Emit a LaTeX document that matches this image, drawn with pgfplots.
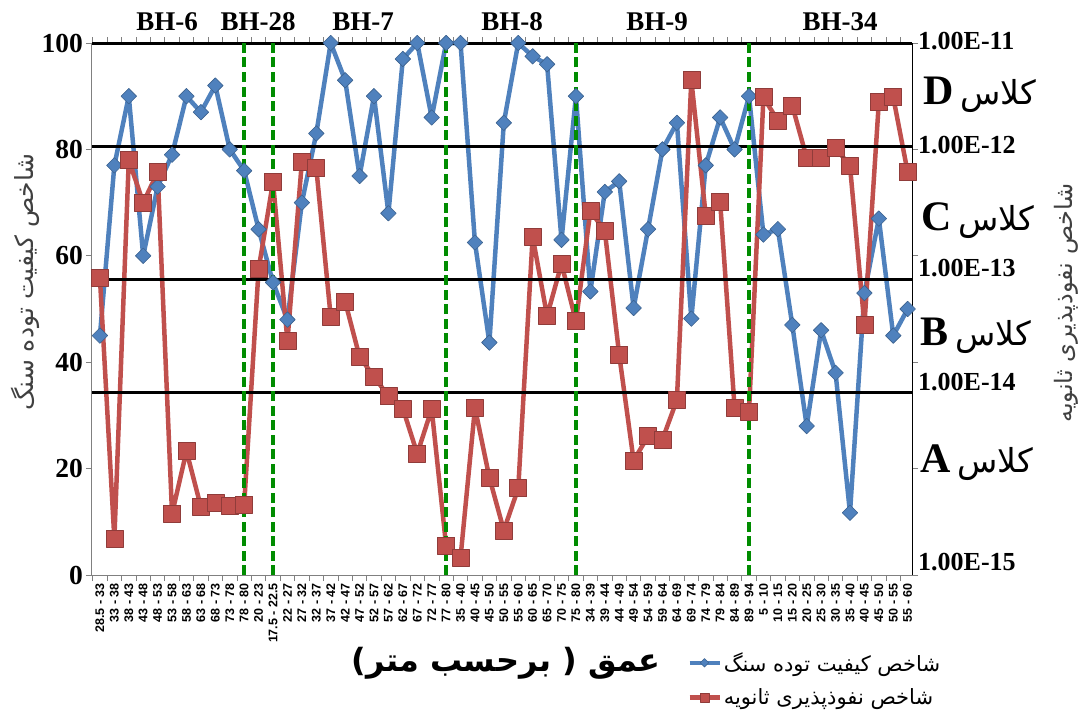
\documentclass[border=0pt]{standalone}
\usepackage{pgfplots}
\usepackage{pgfplotstable}
\pgfplotsset{compat=1.18}
\usepackage{fontspec}
\setmainfont{Liberation Serif}
\newfontfamily\sansf{Liberation Sans}
\newfontfamily\fa[Script=Arabic]{DejaVu Sans}
\TeXXeTstate=1
\definecolor{bl}{HTML}{4F81BD}
\definecolor{rd}{HTML}{C0504D}
\definecolor{gr}{RGB}{0,140,0}
\definecolor{lab}{HTML}{404040}

\pgfplotstableread{
i q
0 45
1 77
2 90
3 60
4 73
5 79
6 90
7 87
8 92
9 80
10 76
11 65
12 55
13 48
14 70
15 83
16 100
17 93
18 75
19 90
20 68
21 97
22 100
23 86
24 100
25 100
26 62.5
27 43.7
28 85
29 100
30 97.5
31 96
32 63
33 90
34 53.3
35 72
36 74
37 50.2
38 65
39 80
40 85
41 48.2
42 77
43 86
44 80
45 90
46 64
47 65
48 47
49 28
50 46
51 38
52 11.7
53 53
54 67
55 45
56 50
}\bluedata

\pgfplotstableread{
i p
0 55.8
1 6.8
2 78
3 70
4 75.7
5 11.5
6 23.3
7 12.8
8 13.6
9 13.1
10 13.2
11 57.5
12 73.9
13 44
14 77.7
15 76.5
16 48.5
17 51.4
18 41
19 37.3
20 33.6
21 31.3
22 22.8
23 31.2
24 5.5
25 3.3
26 31.4
27 18.3
28 8.4
29 16.3
30 63.6
31 48.7
32 58.5
33 47.7
34 68.4
35 64.7
36 41.4
37 21.5
38 26.1
39 25.5
40 32.9
41 93
42 67.6
43 70.1
44 31.4
45 30.7
46 89.8
47 85.4
48 88.2
49 78.4
50 78.4
51 80.3
52 76.9
53 47
54 88.9
55 89.8
56 75.7
}\reddata

\begin{document}
\begin{tikzpicture}
\path[use as bounding box] (-92pt,-146pt) rectangle (991pt,575pt);
\begin{axis}[
  scale only axis, width=820pt, height=532pt,
  at={(0pt,0pt)}, anchor=south west,
  xmin=-0.55, xmax=56.3, ymin=0, ymax=100,
  ytick={0,20,...,100},
  xtick={0,...,56},
  xticklabels={28.5 - 33,33 - 38,38 - 43,43 - 48,48 - 53,53 - 58,58 - 63,63 - 68,68 - 73,73 - 78,78 - 80,20 - 23,17.5 - 22.5,22 - 27,27 - 32,32 - 37,37 - 42,42 - 47,47 - 52,52 - 57,57 - 62,62 - 67,67 - 72,72 - 77,77 - 80,35 - 40,40 - 45,45 - 50,50 - 55,55 - 60,60 - 65,65 - 70,70 - 75,75 - 80,34 - 39,39 - 44,44 - 49,49 - 54,54 - 59,59 - 64,64 - 69,69 - 74,74 - 79,79 - 84,84 - 89,89 - 94,5 - 10,10 - 15,15 - 20,20 - 25,25 - 30,30 - 35,35 - 40,40 - 45,45 - 50,50 - 55,55 - 60},
  minor xtick={-0.5,0.5,...,55.5},
  every major x tick/.append style={draw=none},
  tick align=outside,
  major tick length=6pt, minor tick length=6pt,
  tick style={draw=gray, line width=0.8pt},
  axis line style={draw=gray, line width=1pt},
  x tick label style={rotate=90, anchor=east, font=\sansf\bfseries\fontsize{12.5}{13}\selectfont, inner sep=2pt},
  y tick label style={font=\fontsize{27.5}{29}\selectfont\bfseries, inner sep=3pt},
  /pgf/number format/assume math mode=true,
  clip=false,
  legend style={at={(0.722,-0.138)}, anchor=north west, draw=none, fill=none,
    font=\fa\fontsize{21}{24}\selectfont, row sep=12pt, cells={anchor=west}},
  legend image code/.code={\draw[mark repeat=2,mark phase=2,#1,every mark/.append style={scale=0.55}] plot coordinates {(0pt,0pt) (15pt,0pt) (30pt,0pt)};},
]
\addplot[bl, line width=4.5pt, line join=round, mark=square*, mark size=5.5pt,
  mark options={rotate=45, fill=bl, draw=bl!75!black, line width=0.6pt}]
  table[x=i,y=q]{\bluedata};
\addlegendentry{\beginR شاخص کیفیت توده سنگ\endR}
\addplot[rd, line width=4.5pt, line join=round, mark=square*, mark size=8.5pt,
  mark options={fill=rd, draw=rd!75!black, line width=0.6pt}]
  table[x=i,y=p]{\reddata};
\addlegendentry{\beginR شاخص نفوذپذیری ثانویه\endR}
\draw[black, line width=3pt] (axis cs:-0.55,80.5) -- (axis cs:56.3,80.5);
\draw[black, line width=3pt] (axis cs:-0.55,55.5) -- (axis cs:56.3,55.5);
\draw[black, line width=3pt] (axis cs:-0.55,34.3) -- (axis cs:56.3,34.3);
\draw[black, line width=3pt] (axis cs:-0.55,100) -- (axis cs:56.3,100);
\draw[black, line width=1pt] (axis cs:56.3,0) -- (axis cs:56.3,100);
\foreach \xx in {10,12,24,33,45}{
  \edef\tmp{\noexpand\draw[gr, line width=4pt, dash pattern=on 10pt off 4.5pt] (axis cs:\xx,0) -- (axis cs:\xx,100);}\tmp
}
\end{axis}
% borehole names
\begin{scope}[every node/.style={font=\fontsize{27}{30}\selectfont\bfseries}]
\node at (75pt,553pt) {BH-6};
\node at (166pt,553pt) {BH-28};
\node at (271pt,553pt) {BH-7};
\node at (420pt,553pt) {BH-8};
\node at (565pt,553pt) {BH-9};
\node at (748pt,553pt) {BH-34};
\end{scope}
% right labels
\begin{scope}[every node/.style={anchor=west, inner sep=0pt, font=\fontsize{26}{28}\selectfont\bfseries}]
\node at (826pt,534pt) {1.00E-11};
\node at (826pt,430pt) {1.00E-12};
\node at (826pt,307pt) {1.00E-13};
\node at (826pt,193pt) {1.00E-14};
\node at (826pt,13pt) {1.00E-15};
\end{scope}
\begin{scope}[every node/.style={anchor=west, inner sep=0pt}]
\node at (831pt,480pt) {\fontsize{42}{44}\selectfont\bfseries D\,{\fa\mdseries\fontsize{33}{35}\selectfont\beginR کلاس\endR}};
\node at (829pt,354pt) {\fontsize{42}{44}\selectfont\bfseries C\,{\fa\mdseries\fontsize{33}{35}\selectfont\beginR کلاس\endR}};
\node at (828pt,239pt) {\fontsize{42}{44}\selectfont\bfseries B\,{\fa\mdseries\fontsize{33}{35}\selectfont\beginR کلاس\endR}};
\node at (828pt,112pt) {\fontsize{42}{44}\selectfont\bfseries A\,{\fa\mdseries\fontsize{33}{35}\selectfont\beginR کلاس\endR}};
\end{scope}
% axis titles
\node[rotate=90, text=lab, font=\fa\fontsize{24}{26}\selectfont] at (974pt,272pt) {\beginR شاخص نفوذپذیری ثانویه\endR};
\node[rotate=90, text=lab, font=\fa\fontsize{25}{27}\selectfont] at (-67pt,293pt) {\beginR شاخص کیفیت توده سنگ\endR};
\node[font=\fa\bfseries\fontsize{32}{34}\selectfont] at (414pt,-88pt) {\beginR عمق ( برحسب متر)\endR};
\end{tikzpicture}
\end{document}
